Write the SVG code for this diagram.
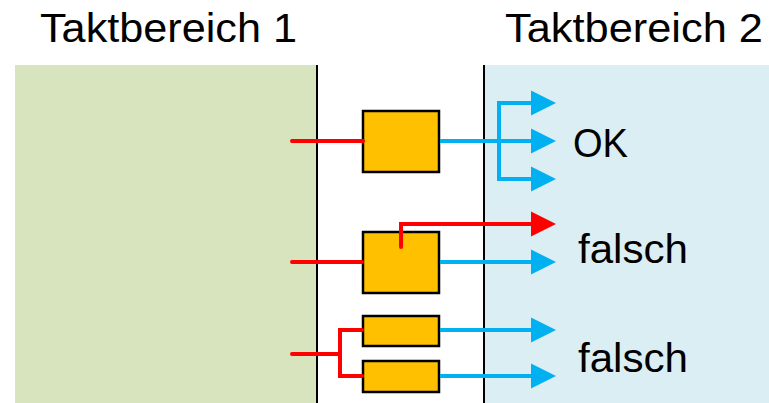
<svg xmlns="http://www.w3.org/2000/svg" width="769" height="403" viewBox="0 0 769 403">
  <style>
    .title { font-family: "Liberation Sans", Arial, sans-serif; font-size: 41px; fill: #000; }
    .label { font-family: "Liberation Sans", Arial, sans-serif; font-size: 41px; fill: #000; }
    .ff { fill: #FFC000; stroke: #000; stroke-width: 2.5; }
    .sep { stroke: #000; stroke-width: 2; }
    .red { fill: none; stroke: #FF0000; stroke-width: 4; stroke-linecap: round; stroke-linejoin: miter; }
    .blue { fill: none; stroke: #00B0F0; stroke-width: 4; stroke-linejoin: miter; }
  </style>
  <defs>
    <marker id="arrowBlue" markerUnits="userSpaceOnUse" markerWidth="26" markerHeight="26" refX="0" refY="12.5" orient="auto" viewBox="0 0 26 25">
      <polygon points="0,0 25,12.5 0,25" fill="#00B0F0"/>
    </marker>
    <marker id="arrowRed" markerUnits="userSpaceOnUse" markerWidth="26" markerHeight="26" refX="0" refY="12.5" orient="auto" viewBox="0 0 26 25">
      <polygon points="0,0 25,12.5 0,25" fill="#FF0000"/>
    </marker>
  </defs>

  <!-- clock domains -->
  <g id="domain1">
    <rect x="15" y="65" width="302" height="338" fill="#D7E4BD"/>
    <text class="title" x="40" y="42" textLength="257" lengthAdjust="spacingAndGlyphs">Taktbereich 1</text>
  </g>
  <g id="domain2">
    <rect x="485" y="65" width="284" height="338" fill="#DBEEF4"/>
    <text class="title" x="505" y="42" textLength="258" lengthAdjust="spacingAndGlyphs">Taktbereich 2</text>
  </g>
  <line class="sep" x1="317" y1="65" x2="317" y2="403"/>
  <line class="sep" x1="484" y1="65" x2="484" y2="403"/>

  <!-- flip-flops -->
  <g id="ff1"><rect class="ff" x="363" y="111" width="76" height="61"/></g>
  <g id="ff2"><rect class="ff" x="363" y="232" width="76" height="61"/></g>
  <g id="ff3"><rect class="ff" x="363" y="316" width="76" height="30"/></g>
  <g id="ff4"><rect class="ff" x="363" y="361" width="76" height="31"/></g>

  <!-- connectors -->
  <g id="connectors">
    <!-- case 1: single synchronizer, fan-out -->
    <line class="red" x1="292" y1="141" x2="363" y2="141"/>
    <line class="blue" x1="440" y1="141" x2="531" y2="141" marker-end="url(#arrowBlue)"/>
    <polyline class="blue" points="531,103 499,103 499,179 531,179" marker-end="url(#arrowBlue)"/>
    <line class="blue" x1="520" y1="103" x2="531" y2="103" marker-end="url(#arrowBlue)"/>

    <!-- case 2: signal bypasses the flip-flop -->
    <line class="red" x1="292" y1="262" x2="362" y2="262"/>
    <polyline class="red" points="401,247 401,224 531,224" stroke-linejoin="round"/>
    <line class="red" x1="520" y1="224" x2="531" y2="224" stroke-linecap="butt" marker-end="url(#arrowRed)"/>
    <line class="blue" x1="440" y1="262" x2="531" y2="262" marker-end="url(#arrowBlue)"/>

    <!-- case 3: one signal into two flip-flops -->
    <line class="red" x1="292" y1="354" x2="340" y2="354"/>
    <polyline class="red" points="362,330 340,330 340,376 362,376" stroke-linecap="butt"/>
    <line class="blue" x1="440" y1="330" x2="531" y2="330" marker-end="url(#arrowBlue)"/>
    <line class="blue" x1="440" y1="376" x2="531" y2="376" marker-end="url(#arrowBlue)"/>
  </g>

  <!-- results -->
  <g id="label-ok"><text class="label" x="573" y="157" textLength="55" lengthAdjust="spacingAndGlyphs">OK</text></g>
  <g id="label-falsch1"><text class="label" x="578" y="263" textLength="110" lengthAdjust="spacingAndGlyphs">falsch</text></g>
  <g id="label-falsch2"><text class="label" x="578" y="372" textLength="110" lengthAdjust="spacingAndGlyphs">falsch</text></g>
</svg>
